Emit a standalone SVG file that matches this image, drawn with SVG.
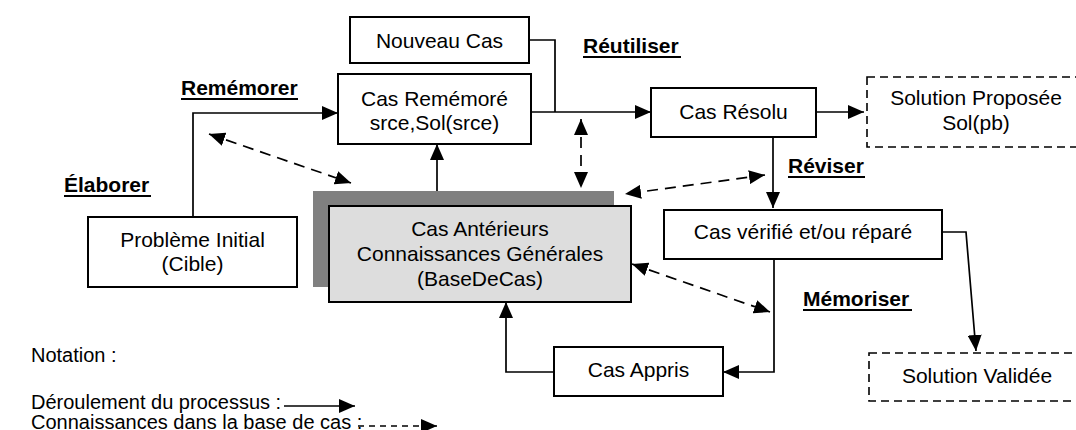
<svg xmlns="http://www.w3.org/2000/svg" width="1076" height="430" viewBox="0 0 1076 430">
<style>
.box{fill:#fff;stroke:#000;stroke-width:2}
.dbox{fill:#fff;stroke:#000;stroke-width:1.6;stroke-dasharray:8 5}
.t{font-family:"Liberation Sans",Arial,sans-serif;font-size:21px;fill:#000;text-anchor:middle}
.lab{font-family:"Liberation Sans",Arial,sans-serif;font-size:21px;font-weight:bold;fill:#000}
.note{font-family:"Liberation Sans",Arial,sans-serif;font-size:20px;fill:#000}
.ln{fill:none;stroke:#000;stroke-width:1.7}
.dl{fill:none;stroke:#000;stroke-width:1.7;stroke-dasharray:11 7}
.ul{stroke:#000;stroke-width:2}
</style>
<defs>
<marker id="ah" markerUnits="userSpaceOnUse" markerWidth="16" markerHeight="14" refX="16" refY="7" orient="auto-start-reverse">
<path d="M0,0 L16,7 L0,14 z" fill="#000"/>
</marker>
</defs>
<rect width="1076" height="430" fill="#fff"/>

<g id="labels">
<text class="lab" x="181" y="95">Remémorer</text>
<line class="ul" x1="181" y1="99" x2="298" y2="99"/>
<text class="lab" x="64" y="192">Élaborer</text>
<line class="ul" x1="64" y1="196" x2="151" y2="196"/>
<text class="lab" x="583" y="53">Réutiliser</text>
<line class="ul" x1="583" y1="57" x2="681" y2="57"/>
<text class="lab" x="788" y="173">Réviser</text>
<line class="ul" x1="788" y1="177" x2="865" y2="177"/>
<text class="lab" x="803" y="306">Mémoriser</text>
<line class="ul" x1="803" y1="310" x2="912" y2="310"/>
</g>

<g id="connectors">
<polyline class="ln" points="193,217 193,113 338,113" marker-end="url(#ah)"/>
<polyline class="ln" points="529,40 555,40 555,112"/>
<line class="ln" x1="531" y1="112" x2="651" y2="112" marker-end="url(#ah)"/>
<line class="ln" x1="437" y1="191" x2="437" y2="144" marker-end="url(#ah)"/>
<line class="ln" x1="816" y1="112" x2="864" y2="112" marker-end="url(#ah)"/>
<line class="ln" x1="773" y1="137" x2="773" y2="208" marker-end="url(#ah)"/>
<polyline class="ln" points="942,232 966,232 976,351" marker-end="url(#ah)"/>
<polyline class="ln" points="774,259 774,372 723,372" marker-end="url(#ah)"/>
<polyline class="ln" points="554,372 506,372 506,302" marker-end="url(#ah)"/>
<line class="dl" x1="209" y1="134" x2="351" y2="183" marker-start="url(#ah)" marker-end="url(#ah)"/>
<line class="dl" x1="581" y1="119" x2="581" y2="188" marker-start="url(#ah)" marker-end="url(#ah)"/>
<line class="dl" x1="765" y1="175" x2="625" y2="194" marker-start="url(#ah)" marker-end="url(#ah)"/>
<line class="dl" x1="632" y1="264" x2="770" y2="312" marker-start="url(#ah)" marker-end="url(#ah)"/>
</g>

<g id="nouveau-cas">
<rect class="box" x="350" y="17" width="179" height="46"/>
<text class="t" x="439.5" y="48">Nouveau Cas</text>
</g>
<g id="cas-rememore">
<rect class="box" x="338" y="74" width="193" height="70"/>
<text class="t" x="434.5" y="106">Cas Remémoré</text>
<text class="t" x="434.5" y="130">srce,Sol(srce)</text>
</g>
<g id="cas-resolu">
<rect class="box" x="651" y="88" width="165" height="49"/>
<text class="t" x="733.5" y="119">Cas Résolu</text>
</g>
<g id="solution-proposee">
<rect class="dbox" x="867" y="77" width="220" height="70"/>
<text class="t" x="976" y="105">Solution Proposée</text>
<text class="t" x="976" y="130">Sol(pb)</text>
</g>
<g id="probleme-initial">
<rect class="box" x="88" y="217" width="209" height="70"/>
<text class="t" x="192.5" y="247">Problème Initial</text>
<text class="t" x="192.5" y="271">(Cible)</text>
</g>
<g id="base-de-cas">
<rect x="313" y="191" width="301" height="96" fill="#808080"/>
<rect x="329" y="206" width="302" height="96" fill="#dddddd" stroke="#000" stroke-width="2"/>
<text class="t" x="480" y="236">Cas Antérieurs</text>
<text class="t" x="480" y="261">Connaissances Générales</text>
<text class="t" x="480" y="286">(BaseDeCas)</text>
</g>
<g id="cas-verifie">
<rect class="box" x="664" y="210" width="278" height="49"/>
<text class="t" x="803" y="239">Cas vérifié et/ou réparé</text>
</g>
<g id="cas-appris">
<rect class="box" x="554" y="347" width="169" height="49"/>
<text class="t" x="638.5" y="377">Cas Appris</text>
</g>
<g id="solution-validee">
<rect class="dbox" x="869" y="353" width="220" height="48"/>
<text class="t" x="977" y="383">Solution Validée</text>
</g>

<g id="notation">
<text class="note" x="31" y="362">Notation :</text>
<text class="note" x="31" y="409">Déroulement du processus :</text>
<line class="ln" x1="284" y1="406" x2="355" y2="406" marker-end="url(#ah)"/>
<text class="note" x="31" y="429">Connaissances dans la base de cas :</text>
<line class="ln" x1="358" y1="426" x2="437" y2="426" stroke-dasharray="6 5" marker-end="url(#ah)"/>
</g>
</svg>
